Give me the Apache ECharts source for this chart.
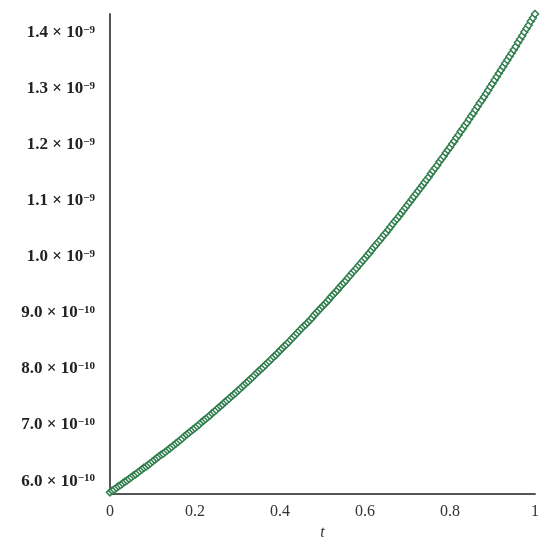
<!DOCTYPE html>
<html>
<head>
<meta charset="utf-8">
<script src="https://cdn.jsdelivr.net/npm/echarts@6/dist/echarts.min.js"></script>
<style>
  html, body { margin: 0; padding: 0; background: #fff; }
  #chart { width: 550px; height: 550px; }
</style>
</head>
<body>
<div id="chart"></div>
<script>
// t samples (x)
const tValues = [
  0.000, 0.005, 0.010, 0.015, 0.020, 0.025, 0.030, 0.035, 0.040, 0.045,
  0.050, 0.055, 0.060, 0.065, 0.070, 0.075, 0.080, 0.085, 0.090, 0.095,
  0.100, 0.105, 0.110, 0.115, 0.120, 0.125, 0.130, 0.135, 0.140, 0.145,
  0.150, 0.155, 0.160, 0.165, 0.170, 0.175, 0.180, 0.185, 0.190, 0.195,
  0.200, 0.205, 0.210, 0.215, 0.220, 0.225, 0.230, 0.235, 0.240, 0.245,
  0.250, 0.255, 0.260, 0.265, 0.270, 0.275, 0.280, 0.285, 0.290, 0.295,
  0.300, 0.305, 0.310, 0.315, 0.320, 0.325, 0.330, 0.335, 0.340, 0.345,
  0.350, 0.355, 0.360, 0.365, 0.370, 0.375, 0.380, 0.385, 0.390, 0.395,
  0.400, 0.405, 0.410, 0.415, 0.420, 0.425, 0.430, 0.435, 0.440, 0.445,
  0.450, 0.455, 0.460, 0.465, 0.470, 0.475, 0.480, 0.485, 0.490, 0.495,
  0.500, 0.505, 0.510, 0.515, 0.520, 0.525, 0.530, 0.535, 0.540, 0.545,
  0.550, 0.555, 0.560, 0.565, 0.570, 0.575, 0.580, 0.585, 0.590, 0.595,
  0.600, 0.605, 0.610, 0.615, 0.620, 0.625, 0.630, 0.635, 0.640, 0.645,
  0.650, 0.655, 0.660, 0.665, 0.670, 0.675, 0.680, 0.685, 0.690, 0.695,
  0.700, 0.705, 0.710, 0.715, 0.720, 0.725, 0.730, 0.735, 0.740, 0.745,
  0.750, 0.755, 0.760, 0.765, 0.770, 0.775, 0.780, 0.785, 0.790, 0.795,
  0.800, 0.805, 0.810, 0.815, 0.820, 0.825, 0.830, 0.835, 0.840, 0.845,
  0.850, 0.855, 0.860, 0.865, 0.870, 0.875, 0.880, 0.885, 0.890, 0.895,
  0.900, 0.905, 0.910, 0.915, 0.920, 0.925, 0.930, 0.935, 0.940, 0.945,
  0.950, 0.955, 0.960, 0.965, 0.970, 0.975, 0.980, 0.985, 0.990, 0.995,
  1.000
]

// values in units of 1e-10
const yValuesE10 = [
  5.80, 5.83, 5.85, 5.88, 5.91, 5.93, 5.96, 5.99, 6.01, 6.04,
  6.07, 6.10, 6.12, 6.15, 6.18, 6.21, 6.24, 6.26, 6.29, 6.32,
  6.35, 6.38, 6.41, 6.44, 6.47, 6.49, 6.52, 6.55, 6.58, 6.61,
  6.64, 6.67, 6.70, 6.73, 6.76, 6.80, 6.83, 6.86, 6.89, 6.92,
  6.95, 6.98, 7.01, 7.05, 7.08, 7.11, 7.14, 7.17, 7.21, 7.24,
  7.27, 7.31, 7.34, 7.37, 7.41, 7.44, 7.47, 7.51, 7.54, 7.57,
  7.61, 7.64, 7.68, 7.71, 7.75, 7.78, 7.82, 7.85, 7.89, 7.93,
  7.96, 8.00, 8.03, 8.07, 8.11, 8.14, 8.18, 8.22, 8.25, 8.29,
  8.33, 8.37, 8.41, 8.44, 8.48, 8.52, 8.56, 8.60, 8.64, 8.68,
  8.72, 8.76, 8.79, 8.83, 8.87, 8.91, 8.96, 9.00, 9.04, 9.08,
  9.12, 9.16, 9.20, 9.24, 9.29, 9.33, 9.37, 9.41, 9.46, 9.50,
  9.54, 9.58, 9.63, 9.67, 9.72, 9.76, 9.80, 9.85, 9.89, 9.94,
  9.98, 10.03, 10.07, 10.12, 10.17, 10.21, 10.26, 10.30, 10.35, 10.40,
  10.44, 10.49, 10.54, 10.59, 10.64, 10.68, 10.73, 10.78, 10.83, 10.88,
  10.93, 10.98, 11.03, 11.08, 11.13, 11.18, 11.23, 11.28, 11.33, 11.38,
  11.43, 11.49, 11.54, 11.59, 11.64, 11.70, 11.75, 11.80, 11.86, 11.91,
  11.96, 12.02, 12.07, 12.13, 12.18, 12.24, 12.29, 12.35, 12.40, 12.46,
  12.52, 12.57, 12.63, 12.69, 12.75, 12.80, 12.86, 12.92, 12.98, 13.04,
  13.10, 13.16, 13.22, 13.28, 13.34, 13.40, 13.46, 13.52, 13.58, 13.64,
  13.70, 13.76, 13.83, 13.89, 13.95, 14.02, 14.08, 14.14, 14.21, 14.27,
  14.34
]

const yTicksE10 = [6, 7, 8, 9, 10, 11, 12, 13, 14]
const xTicks = [0, 0.2, 0.4, 0.6, 0.8, 1]

const serif = '"Liberation Serif", "Times New Roman", serif'
const green = '#2e7d4c'

const chart = echarts.init(document.getElementById('chart'))

function sciLabel(v) {
  let mant = v
  let exp = -10
  if (v >= 10) {
    mant = v / 10
    exp = -9
  }
  return '{m|' + mant.toFixed(1) + ' × 10}{s|−' + Math.abs(exp) + '}'
}

chart.setOption({
  animation: false,
  grid: {
    left: 110,
    right: 15,
    top: 14,
    bottom: 56
  },
  xAxis: {
    type: 'value',
    min: 0,
    max: 1,
    interval: 0.2,
    name: 't',
    nameLocation: 'middle',
    nameGap: 28,
    nameTextStyle: {
      fontFamily: serif,
      fontStyle: 'italic',
      fontSize: 16,
      color: '#333'
    },
    axisLine: { lineStyle: { color: '#555', width: 2 } },
    axisTick: { show: false },
    splitLine: { show: false },
    axisLabel: {
      customValues: xTicks,
      margin: 10,
      fontFamily: serif,
      fontSize: 16,
      color: '#333'
    }
  },
  yAxis: {
    type: 'value',
    min: 5.77,
    max: 14.34,
    axisLine: { show: true, lineStyle: { color: '#555', width: 2 } },
    axisTick: { show: false },
    splitLine: { show: false },
    axisLabel: {
      customValues: yTicksE10,
      margin: 15,
      formatter: sciLabel,
      rich: {
        m: {
          fontFamily: serif,
          fontWeight: 'bold',
          fontSize: 17,
          color: '#222'
        },
        s: {
          fontFamily: serif,
          fontWeight: 'bold',
          fontSize: 11,
          color: '#222',
          verticalAlign: 'top'
        }
      }
    }
  },
  series: [{
    type: 'scatter',
    symbol: 'diamond',
    symbolSize: 7,
    itemStyle: {
      color: '#fff',
      borderColor: green,
      borderWidth: 1.5,
      opacity: 1
    },
    data: tValues.map((t, i) => [t, yValuesE10[i]])
  }]
})
</script>
</body>
</html>
